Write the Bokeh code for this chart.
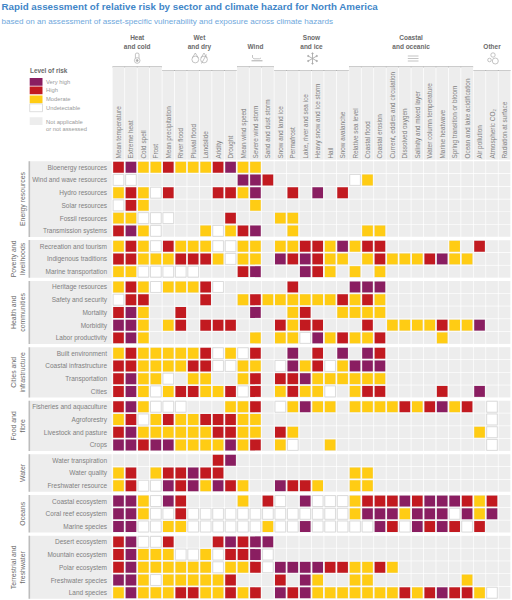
from bokeh.plotting import figure
from bokeh.models import ColumnDataSource, Range1d
from bokeh.core.properties import value
from bokeh.embed import file_html
from bokeh.resources import INLINE
import math

TITLE = "Rapid assessment of relative risk by sector and climate hazard for North America"
SUBTITLE = "based on an assessment of asset-specific vulnerability and exposure across climate hazards"

HAZARDS = ["Mean temperature", "Extreme heat", "Cold spell", "Frost",
           "Mean precipitation", "River flood", "Pluvial flood", "Landslide", "Aridity", "Drought",
           "Mean wind speed", "Severe wind storm", "Sand and dust storm",
           "Snow and land ice", "Permafrost", "Lake, river and sea ice", "Heavy snow and ice storm", "Hail", "Snow avalanche",
           "Relative sea level", "Coastal flood", "Coastal erosion", "Current, eddies and circulation", "Dissolved oxygen",
           "Salinity and mixed layer", "Water column temperature", "Marine heatwave", "Spring transition or bloom",
           "Ocean and lake acidification",
           "Air pollution", "Atmospheric CO\u2082", "Radiation at surface"]

# hazard group: (label lines, number of hazards)
HAZARD_GROUPS = [(["Heat", "and cold"], 4), (["Wet", "and dry"], 6), (["Wind"], 3),
                 (["Snow", "and ice"], 6), (["Coastal", "and oceanic"], 10), (["Other"], 3)]

# V very high, H high, M moderate, U undetectable, . not applicable or not assessed
ENERGY = ["Bioenergy resources", "Wind and wave resources", "Hydro resources", "Solar resources",
          "Fossil resources", "Transmission systems"]
ENERGY_RISK = ["HVMMHMMMHVMM....................",
               "UU........VVH......UM...........",
               "MHMUH...HHMV..H.V.H.............",
               "UHM........M....................",
               "MMUUU....H...MM.................",
               "HVMU...MUMHV..M.....MM.........."]
POVERTY = ["Recreation and tourism", "Indigenous traditions", "Marine transportation"]
POVERTY_RISK = ["MHMUHMMMUUMM.MMHHMVMHH.....M.H..",
                "HHMMMHHHMUMM.VHVHMM.MHMMMHVMM...",
                "MMUUUUU...HV...VHM.M.M.........."]
HEALTH = ["Heritage resources", "Safety and security", "Mortality", "Morbidity", "Labor productivity"]
HEALTH_RISK = ["MHMUMMMHU.....H....VVV..........",
               "UHH....H..MHMMMMMMHMHM..........",
               "HVM..H.....V..MH..MMMM..........",
               "VVM.MH.HHH...HMHH...H.MMMMHMMV..",
               "HVM........M.MMUVMHMMH....M....."]
CITIES = ["Built environment", "Coastal infrastructure", "Transportation", "Cities"]
CITIES_RISK = ["MHMMMMMHUMUH..V.H.V.VH..........",
               "HHMMMMHHUUMM.UVMHUMVVV..........",
               "HVMMU.MM..MH.HHVMMMMMM..........",
               "HVMUMHHMMHUH.MHMMU.MHH....H..V.."]
FOOD = ["Fisheries and aquaculture", "Agroforestry", "Livestock and pasture", "Crops"]
FOOD_RISK = ["HVMUUU...MMH.UMVMM.MMMMHMHVMH.U.",
             "MHUMHMMHHHMM..................U.",
             "HVMMMMMMHHMM.HM..............MU.",
             "VVHVVMMMMVMH.MU..M............U."]
WATER = ["Water transpiration", "Water quality", "Freshwater resource"]
WATER_RISK = ["........HV......................",
              "MH.MHHVHH..........MM...........",
              "MHUUVHVMVHM..VHHM..MM..........."]
OCEANS = ["Coastal ecosystem", "Coral reef ecosystem", "Marine species"]
OCEANS_RISK = ["VVMUVH....M.HU.VUUUMHHHVHVVVHMH.",
               "VVMUUHUUUUUUUUUUUUUMVVVMVVVUVMV.",
               "VVUUMMUUUUUUMUUVUUUUUVHUVHVHUH.."]
TERRESTRIAL = ["Desert ecosystem", "Mountain ecosystem", "Polar ecosystem", "Freshwater species", "Land species"]
TERRESTRIAL_RISK = ["HVUUH...HVHVV...................",
                    "HVMMMUUMUHHVU...................",
                    "HVMMMMMMUMMHUVVVVHHMMHM.........",
                    "VVMUMMMMMH...H.VM..MM.......M...",
                    "MVMMMHHMMHMH.VHVMMMMMMMHMHVHHMU."]

SECTORS = [(["Energy resources"], ENERGY, ENERGY_RISK),
           (["Poverty and", "livelihoods"], POVERTY, POVERTY_RISK),
           (["Health and", "communities"], HEALTH, HEALTH_RISK),
           (["Cities and", "infrastructure"], CITIES, CITIES_RISK),
           (["Food and", "fibre"], FOOD, FOOD_RISK),
           (["Water"], WATER, WATER_RISK),
           (["Oceans"], OCEANS, OCEANS_RISK),
           (["Terrestrial and", "freshwater"], TERRESTRIAL, TERRESTRIAL_RISK)]

LEVELS = [("V", "Very high", "#8A1E61"), ("H", "High", "#C21A20"),
          ("M", "Moderate", "#FFCC14"), ("U", "Undetectable", "#FFFFFF")]
COLOR = {k: c for k, _, c in LEVELS}
NA_GRAY = "#EDEDED"
TXT = "#808080"
HEAD = "#6A6A6A"
FONT = "Liberation Sans"

W, H = 512, 600
def Y(py):
    return H - py

COL0, COL_STEP = 118.0, 12.45
ROW0, ROW_STEP, GROUP_GAP = 166.7, 12.73, 2.6
def cx(i):
    return COL0 + COL_STEP * i
def ry(r, g):
    return Y(ROW0 + ROW_STEP * r + GROUP_GAP * g)

p = figure(width=W, height=H, output_backend="svg", toolbar_location=None,
           x_range=Range1d(0, W), y_range=Range1d(0, H),
           min_border=0, outline_line_color=None)
p.axis.visible = False
p.grid.visible = False

def put_text(x, y, t, size, color=TXT, style="normal", align="left", angle=0.0, baseline="middle"):
    p.text(x=[x], y=[y], text=[t], text_font=value(FONT), text_font_size=f"{size}px", text_color=color,
           text_font_style=style, text_align=align, text_baseline=baseline, angle=angle)

# titles
put_text(1, Y(6.3), TITLE, 9.75, "#3F86C8", "bold")
put_text(1, Y(20.7), SUBTITLE, 8.1, "#6FA8DC")

# hazard header panels
col = 0
cols_x, cols_top, cols_h = [], [], []
for gi, (lines, n) in enumerate(HAZARD_GROUPS):
    top = 66.3 if gi % 2 == 0 else 70.0
    left, right = cx(col) - COL_STEP / 2, cx(col + n - 1) + COL_STEP / 2
    for i in range(col, col + n):
        cols_x.append(cx(i)); cols_top.append(Y((top + 159.2) / 2)); cols_h.append(159.2 - top)
    p.segment(x0=[left + 0.2], x1=[right - 0.2], y0=[Y(top)], y1=[Y(top)], line_color="#ABABAB", line_width=1.2)
    mid = (left + right) / 2
    ys = [36.5, 46.2] if len(lines) == 2 else [46.2]
    for t, yy in zip(lines, ys):
        put_text(mid, Y(yy), t, 6.5, HEAD, "bold", "center")
    col += n
p.rect(x=cols_x, y=cols_top, width=COL_STEP - 0.7, height=cols_h, fill_color=NA_GRAY, line_color=None)

for i, h in enumerate(HAZARDS):
    put_text(cx(i), Y(158), h, 6.4, TXT, "normal", "left", math.pi / 2)

# sector label panels, labels and cells
r = 0
bg_x, bg_y, sq_x, sq_y, sq_c, sq_l = [], [], [], [], [], []
for g, (lines, names, rows) in enumerate(SECTORS):
    top = ry(r, g) + ROW_STEP / 2 - 0.3
    bot = ry(r + len(names) - 1, g) - ROW_STEP / 2 + 0.3
    p.quad(left=[29], right=[111.2], top=[top], bottom=[bot], fill_color=NA_GRAY, line_color=None)
    p.quad(left=[28], right=[29.6], top=[top], bottom=[bot], fill_color="#BDBDBD", line_color=None)
    mid = (top + bot) / 2
    xs = [12.7, 22.2] if len(lines) == 2 else [22.2]
    for t, xx in zip(lines, xs):
        put_text(xx, mid, t, 6.9, HEAD, "normal", "center", math.pi / 2)
    for name, risks in zip(names, rows):
        y = ry(r, g)
        put_text(106.5, y, name, 6.5, TXT, "normal", "right")
        for i, k in enumerate(risks):
            bg_x.append(cx(i)); bg_y.append(y)
            if k != ".":
                sq_x.append(cx(i)); sq_y.append(y); sq_c.append(COLOR[k])
                sq_l.append("#D6D6D6" if k == "U" else None)
        r += 1

p.rect(x=bg_x, y=bg_y, width=COL_STEP - 0.7, height=ROW_STEP - 0.7, fill_color=NA_GRAY, line_color=None)
p.rect(source=ColumnDataSource(dict(x=sq_x, y=sq_y, c=sq_c, l=sq_l)), x="x", y="y",
       width=COL_STEP - 1.8, height=ROW_STEP - 1.8, fill_color="c", line_color="l", line_width=0.8)

# legend
put_text(29.5, Y(70.3), "Level of risk", 6.4, HEAD, "bold")
leg_y = [81.3, 89.9, 98.9, 107.3]
for (k, label, c), yy in zip(LEVELS, leg_y):
    p.rect(x=[35.6], y=[Y(yy)], width=12.8, height=7.8, fill_color=c,
           line_color="#D6D6D6" if k == "U" else None, line_width=0.8)
    put_text(45.5, Y(yy), label, 5.8, "#9A9A9A")
p.rect(x=[35.6], y=[Y(120.7)], width=12.8, height=7.8, fill_color=NA_GRAY, line_color=None)
put_text(45.5, Y(121), "Not applicable", 5.8, "#9A9A9A")
put_text(45.5, Y(128.8), "or not assessed", 5.8, "#9A9A9A")

# small hazard icons
IC = "#ABABAB"
def line(xs, ys, w=0.7):
    p.line(x=xs, y=[Y(v) for v in ys], line_color=IC, line_width=w)
def circ(x, y, rad, fill="#FFFFFF"):
    p.circle(x=[x], y=[Y(y)], radius=rad, fill_color=fill, line_color=IC, line_width=0.7)

# thermometer
line([134.9, 134.9, 135.6, 137.8, 138.5, 138.5], [58, 53.5, 52.6, 52.6, 53.5, 58])
circ(136.7, 60, 2.8)
circ(136.7, 60, 1.0, IC)
# drops
for dx in (194.8, 203.5):
    circ(dx, 59, 3.4)
    line([dx - 2.9, dx, dx + 2.9], [57.2, 52.5, 57.2])
line([201, 206], [63, 54])
# wind
line([252, 252, 253.5, 259, 260.5], [54.5, 57, 58.3, 58.3, 57.5])
line([251, 262], [60.3, 60.3], 1.0)
# snowflake
for ax, ay, bx, by in [(312, 53, 312, 63), (307.7, 55.5, 316.3, 60.5), (307.7, 60.5, 316.3, 55.5)]:
    line([ax, bx], [ay, by], 0.9)
for ax, ay in [(312, 53), (312, 63), (307.7, 55.5), (316.3, 60.5), (307.7, 60.5), (316.3, 55.5)]:
    circ(ax, ay, 0.7, IC)
# waves
for yy in (55.5, 58, 60.5):
    line([407.3, 418], [yy, yy], 0.7)
# bubbles
circ(492.5, 54.5, 2.2)
circ(489, 59.5, 1.8)
circ(494.8, 60.5, 3.0)

open("out.html", "w").write(file_html(p, INLINE))
